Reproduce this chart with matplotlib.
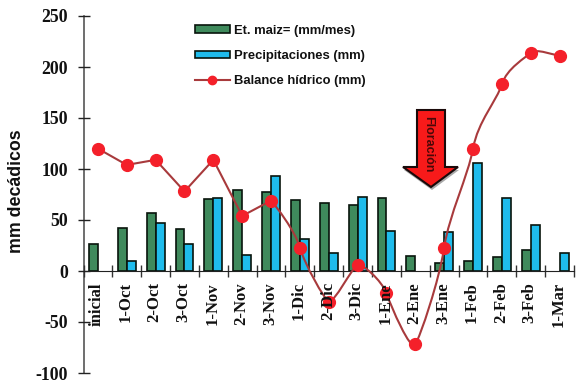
import matplotlib
matplotlib.use('Agg')
import matplotlib.pyplot as plt
from matplotlib.patches import Patch, PathPatch, Polygon
from matplotlib.lines import Line2D
from matplotlib.path import Path
import numpy as np

categories = ['inicial', '1-Oct', '2-Oct', '3-Oct', '1-Nov', '2-Nov', '3-Nov', '1-Dic', '2-Dic',
              '3-Dic', '1-Ene', '2-Ene', '3-Ene', '1-Feb', '2-Feb', '3-Feb', '1-Mar']
et_maiz = [26, 42, 57, 41, 71, 79, 77, 70, 67, 65, 72, 15, 8, 10, 14, 21, 0]
precip = [0, 10, 47, 26, 72, 16, 93, 31, 18, 73, 39, 0, 38, 106, 72, 45, 18]
balance = [120, 104, 109, 78, 109, 54, 69, 23, -30, 6, -22, -72, 23, 120, 183, 214, 211]
yticks = [-100, -50, 0, 50, 100, 150, 200, 250]

W, H = 580, 391
fig = plt.figure(figsize=(W / 100, H / 100), dpi=100, facecolor='white')
ax = fig.add_axes([83.5 / W, 1 - 373 / H, (574 - 83.5) / W, (373 - 16) / H])

x = np.arange(len(categories)) + 0.5
bw = 0.31
# zero values have no bar at all in the original
et_masked = np.array(et_maiz, dtype=float)
et_masked[et_masked == 0] = np.nan
precip_masked = np.array(precip, dtype=float)
precip_masked[precip_masked == 0] = np.nan
ax.bar(x - bw / 2, et_masked, bw, color='#3f8a5c', edgecolor='#08140c', linewidth=1.2, zorder=2)
ax.bar(x + bw / 2, precip_masked, bw, color='#1fbcec', edgecolor='#08140c', linewidth=1.2, zorder=2)

# excel style smoothing, the first stretch of the line looks straight
verts = [(x[0], balance[0])]
codes = [Path.MOVETO]
n = len(x)
for i in range(n - 1):
    y0, y1 = balance[max(i - 1, 0)], balance[min(i + 2, n - 1)]
    k = 0 if i < 6 else 1 / 6
    verts += [(x[i] + k, balance[i] + k * (balance[i + 1] - y0)),
              (x[i + 1] - k, balance[i + 1] - k * (y1 - balance[i])),
              (x[i + 1], balance[i + 1])]
    codes += [Path.CURVE4] * 3
ax.add_patch(PathPatch(Path(verts, codes), fill=False, edgecolor='#a83a3c', linewidth=1.5, zorder=3))
ax.plot(x, balance, ls='none', marker='o', ms=8.5, color='#f4202a', mec='#f4202a', zorder=4)

ax.set_xlim(0, len(categories))
ax.set_ylim(-100, 250)
for s in ['top', 'right']:
    ax.spines[s].set_visible(False)
ax.spines['bottom'].set_position(('data', 0))
ax.spines['bottom'].set_color('#222222')
ax.spines['left'].set_color('#555555')
ax.spines['left'].set_linewidth(1.2)
ax.spines['left'].set_zorder(1)

ax.set_yticks(yticks)
ax.set_yticklabels([str(v) for v in yticks], family='Liberation Serif', fontweight='bold',
                   fontsize=12.8, color='#111111')
ax.tick_params(axis='y', direction='inout', length=8, width=1, color='#222222', pad=7)

ax.set_xticks(np.arange(len(categories) + 1))
ax.set_xticklabels([''] * (len(categories) + 1))
ax.tick_params(axis='x', direction='inout', length=8.5, width=1, color='#333333')
for xi, lab in zip(x, categories):
    ax.annotate(lab, (xi, 0), xytext=(-0.7, -8), textcoords='offset points', rotation=90,
                ha='center', va='top', family='Liberation Serif', fontweight='bold',
                fontsize=12, color='#111111', zorder=6)

fig.text(17 / W, 1 - 191 / H, 'mm decádicos', rotation=90, ha='center', va='center',
         family='Liberation Sans', fontweight='bold', fontsize=12.8, color='#111111')

handles = [Patch(facecolor='#3f8a5c', edgecolor='#08140c', linewidth=1.2),
           Patch(facecolor='#1fbcec', edgecolor='#08140c', linewidth=1.2),
           Line2D([], [], color='#a83a3c', lw=1.5, marker='o', ms=6, mfc='#f4202a', mec='#f4202a')]
labels = ['Et. maiz= (mm/mes)', 'Precipitaciones (mm)', 'Balance hídrico (mm)']
fig.legend(handles, labels, loc='upper left', bbox_to_anchor=(183 / W, 1 - 13 / H), frameon=False,
           prop={'family': 'Liberation Sans', 'weight': 'bold', 'size': 9.4}, labelspacing=1.02,
           handlelength=2.7, handleheight=0.55, handletextpad=0.3, borderpad=0.4,
           labelcolor='#111111')

# Floracion arrow, placed in pixels of the figure
arrow = [(417, 110), (445, 110), (445, 167), (458, 167), (431, 187), (403, 167), (417, 167)]
def to_fig(pts, dx=0, dy=0):
    return [((px + dx) / W, 1 - (py + dy) / H) for px, py in pts]
fig.add_artist(Polygon(to_fig(arrow, 1, 3), closed=True, facecolor='#a9a9a9', edgecolor='none', zorder=7))
fig.add_artist(Polygon(to_fig(arrow), closed=True, facecolor='#f81a1a', edgecolor='#1a0a0a', linewidth=1.5, zorder=8))
fig.text(428.5 / W, 1 - 144 / H, 'Floración', rotation=-90, ha='center', va='center',
         family='Liberation Sans', fontweight='bold', fontsize=9, color='#4a0808', zorder=9)

fig.savefig('out.png', dpi=100)
